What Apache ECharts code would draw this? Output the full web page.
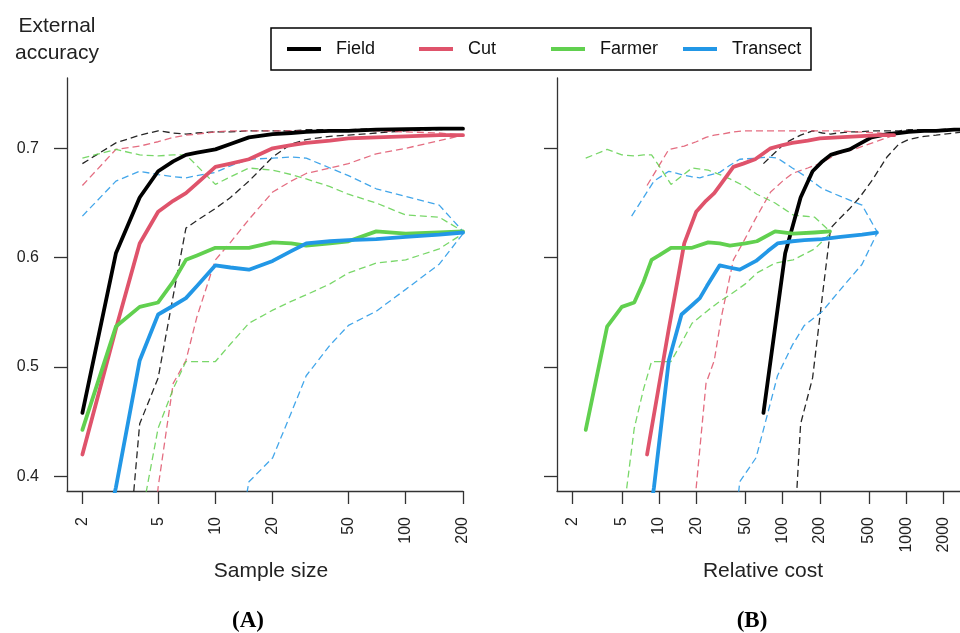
<!DOCTYPE html>
<html>
<head>
<meta charset="utf-8">
<script src="https://cdn.jsdelivr.net/npm/echarts@6/dist/echarts.min.js"></script>
<style>
  html, body { margin: 0; padding: 0; background: #fff; }
  #chart { width: 960px; height: 633px; }
</style>
</head>
<body>
<div id="chart"></div>
<script>
// sample sizes (panel A x values)
const sampleSize = [2, 3, 4, 5, 6, 7, 8, 10, 12, 15, 20, 25, 30, 40, 50, 70, 100, 150, 200];

// relative cost for each sample size (panel B x values)
const fieldCost = [70, 105, 140, 175, 210, 245, 280, 350, 420, 525, 700, 875, 1050, 1400, 1750, 2450, 3500, 5250, 7000];
const cutCost = [8, 12, 16, 20, 24, 28, 32, 40, 48, 60, 80, 100, 120, 160, 200, 280, 400, 600, 800];
const farmerCost = [2.55, 3.8, 5, 6.3, 7.5, 8.7, 10, 12.5, 15, 18.5, 25, 31, 37.5, 50, 62, 87, 122, 182, 242];
const transectCost = [6, 9.1, 12, 15.2, 18.3, 21.4, 24.4, 31, 37, 45, 61, 76, 91, 120, 150, 210, 295, 440, 580];

// external accuracy: mean, upper and lower bands
const fieldMean = [0.458, 0.604, 0.655, 0.679, 0.688, 0.694, 0.696, 0.699, 0.704, 0.710, 0.713, 0.714, 0.715, 0.716, 0.716, 0.717, 0.7175, 0.718, 0.718];
const fieldUpper = [0.686, 0.705, 0.712, 0.716, 0.714, 0.713, 0.714, 0.715, 0.715, 0.716, 0.716, 0.716, 0.717, 0.717, 0.717, 0.718, 0.718, 0.718, 0.718];
const fieldLower = [0.10, 0.20, 0.448, 0.490, 0.565, 0.627, 0.634, 0.645, 0.655, 0.670, 0.692, 0.704, 0.708, 0.711, 0.712, 0.714, 0.716, 0.717, 0.718];

const cutMean = [0.420, 0.535, 0.613, 0.642, 0.652, 0.659, 0.668, 0.683, 0.686, 0.690, 0.700, 0.703, 0.705, 0.707, 0.709, 0.710, 0.711, 0.712, 0.712];
const cutUpper = [0.666, 0.699, 0.702, 0.706, 0.710, 0.712, 0.713, 0.715, 0.716, 0.716, 0.716, 0.716, 0.716, 0.716, 0.716, 0.716, 0.715, 0.714, 0.712];
const cutLower = [0.0, 0.1, 0.2, 0.39, 0.485, 0.506, 0.546, 0.598, 0.614, 0.635, 0.660, 0.670, 0.677, 0.682, 0.686, 0.695, 0.700, 0.707, 0.712];

const farmerMean = [0.4425, 0.537, 0.555, 0.559, 0.578, 0.598, 0.602, 0.609, 0.609, 0.609, 0.614, 0.613, 0.611, 0.613, 0.615, 0.624, 0.622, 0.623, 0.624];
const farmerUpper = [0.691, 0.699, 0.694, 0.693, 0.694, 0.694, 0.684, 0.667, 0.674, 0.682, 0.680, 0.676, 0.672, 0.665, 0.658, 0.650, 0.639, 0.637, 0.624];
const farmerLower = [0.1, 0.2, 0.354, 0.444, 0.48, 0.505, 0.505, 0.505, 0.521, 0.540, 0.552, 0.560, 0.566, 0.576, 0.586, 0.595, 0.598, 0.608, 0.622];

const transectMean = [0.25, 0.39, 0.506, 0.548, 0.556, 0.563, 0.574, 0.593, 0.591, 0.589, 0.597, 0.606, 0.613, 0.615, 0.616, 0.617, 0.619, 0.621, 0.623];
const transectUpper = [0.638, 0.670, 0.679, 0.676, 0.674, 0.673, 0.675, 0.678, 0.684, 0.690, 0.691, 0.692, 0.691, 0.682, 0.675, 0.663, 0.656, 0.648, 0.624];
const transectLower = [0.05, 0.1, 0.15, 0.2, 0.22, 0.24, 0.26, 0.28, 0.30, 0.395, 0.417, 0.458, 0.492, 0.52, 0.538, 0.551, 0.571, 0.594, 0.622];

// axis ticks
const sizeTicks = [2, 5, 10, 20, 50, 100, 200];
const costTicks = [2, 5, 10, 20, 50, 100, 200, 500, 1000, 2000];
const accTicks = [0.4, 0.5, 0.6, 0.7];

const methods = [
  { name: 'Field', color: '#000000', cost: fieldCost, mean: fieldMean, upper: fieldUpper, lower: fieldLower },
  { name: 'Cut', color: '#DF536B', cost: cutCost, mean: cutMean, upper: cutUpper, lower: cutLower },
  { name: 'Farmer', color: '#61D04F', cost: farmerCost, mean: farmerMean, upper: farmerUpper, lower: farmerLower },
  { name: 'Transect', color: '#2297E6', cost: transectCost, mean: transectMean, upper: transectUpper, lower: transectLower },
];

const FONT = 'Liberation Sans, Arial, sans-serif';
const axisColor = '#333';
// left edge of each legend entry inside the box
const legendLeft = [287, 419, 551, 683];

function pairs(xs, ys) {
  return xs.map((x, i) => [x, ys[i]]);
}

function makeSeries() {
  let series = [];
  [0, 1].forEach((g) => {
    // solid mean lines first (legend takes style from the first series of a name)
    methods.forEach((m) => {
      series.push({
        name: m.name, type: 'line', xAxisIndex: g, yAxisIndex: g,
        data: pairs(g === 0 ? sampleSize : m.cost, m.mean),
        color: m.color, symbol: 'none', clip: true, z: 3,
        lineStyle: { width: 3.8, color: m.color, cap: 'round', join: 'round' },
      });
    });
    methods.forEach((m) => {
      ['upper', 'lower'].forEach((k) => {
        series.push({
          name: m.name, type: 'line', xAxisIndex: g, yAxisIndex: g,
          data: pairs(g === 0 ? sampleSize : m.cost, m[k]),
          color: m.color, symbol: 'none', clip: true, z: 2,
          lineStyle: { width: 1.3, color: m.color, type: [7, 4], opacity: 0.85 },
        });
      });
    });
  });
  return series;
}

function xAxis(gridIndex, min, max, ticks) {
  return {
    type: 'log', logBase: 10, gridIndex: gridIndex, min: min, max: max,
    axisLine: { show: true, onZero: false, lineStyle: { color: axisColor, width: 1.3 } },
    axisTick: { show: true, length: 13, customValues: ticks, lineStyle: { color: axisColor, width: 1.3 } },
    axisLabel: {
      show: true, customValues: ticks, rotate: 90, margin: 26,
      fontSize: 16, color: '#222', fontFamily: FONT,
      formatter: (v) => String(Math.round(v)),
    },
    splitLine: { show: false },
    minorTick: { show: false },
  };
}

function yAxis(gridIndex, labels) {
  return {
    type: 'value', gridIndex: gridIndex, min: 0.3866, max: 0.7643,
    axisLine: { show: true, onZero: false, lineStyle: { color: axisColor, width: 1.3 } },
    axisTick: { show: true, length: 13, customValues: accTicks, lineStyle: { color: axisColor, width: 1.3 } },
    axisLabel: {
      show: labels, customValues: accTicks, margin: 28,
      fontSize: 16, color: '#222', fontFamily: FONT,
      formatter: (v) => v.toFixed(1),
    },
    splitLine: { show: false },
  };
}

// one legend per entry so that the entries sit on an even spacing
function makeLegends() {
  return methods.map((m, i) => ({
    data: [m.name],
    left: legendLeft[i], top: 40,
    padding: 0,
    icon: 'rect', itemWidth: 34, itemHeight: 4,
    selectedMode: false,
    textStyle: { fontSize: 18, color: '#111', fontFamily: FONT, padding: [0, 0, 0, 10] },
  }));
}

let chartDom = document.getElementById('chart');
let myChart = echarts.init(chartDom, null, { renderer: 'canvas' });
let option = {
  animation: false,
  backgroundColor: '#fff',
  grid: [
    { left: 67, top: 78, width: 396, height: 413 },
    { left: 557, top: 78, width: 403, height: 413 },
  ],
  xAxis: [xAxis(0, 1.66, 200, sizeTicks), xAxis(1, 1.493, 2731, costTicks)],
  yAxis: [yAxis(0, true), yAxis(1, false)],
  legend: makeLegends(),
  graphic: [
    { type: 'rect', silent: true, shape: { x: 271, y: 28, width: 540, height: 42 },
      style: { fill: 'none', stroke: '#000', lineWidth: 1.5 } },
    { type: 'text', x: 57, y: 13, silent: true,
      style: { text: 'External\naccuracy', fontSize: 21, lineHeight: 27, fontFamily: FONT, fill: '#222', align: 'center', verticalAlign: 'top' } },
    { type: 'text', x: 271, y: 571, silent: true,
      style: { text: 'Sample size', fontSize: 21, fontFamily: FONT, fill: '#222', align: 'center', verticalAlign: 'middle' } },
    { type: 'text', x: 763, y: 571, silent: true,
      style: { text: 'Relative cost', fontSize: 21, fontFamily: FONT, fill: '#222', align: 'center', verticalAlign: 'middle' } },
    { type: 'text', x: 248, y: 621, silent: true,
      style: { text: '(A)', fontSize: 23, fontWeight: 'bold', fontFamily: 'Liberation Serif, serif', fill: '#000', align: 'center', verticalAlign: 'middle' } },
    { type: 'text', x: 752, y: 621, silent: true,
      style: { text: '(B)', fontSize: 23, fontWeight: 'bold', fontFamily: 'Liberation Serif, serif', fill: '#000', align: 'center', verticalAlign: 'middle' } },
  ],
  series: makeSeries(),
};

option && myChart.setOption(option);
</script>
</body>
</html>
